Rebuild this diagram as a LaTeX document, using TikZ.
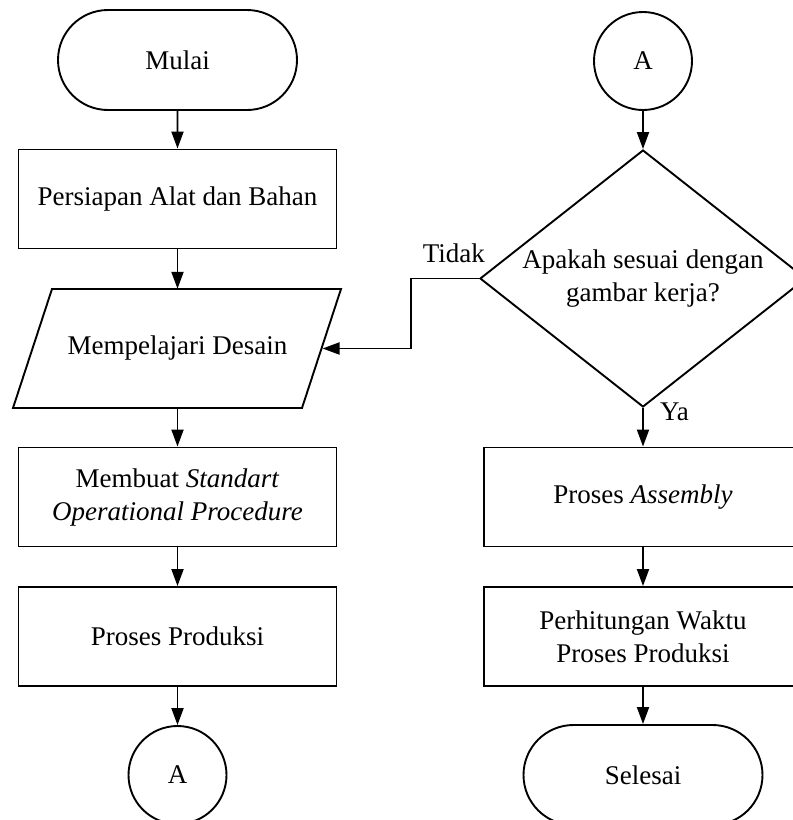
\documentclass[tikz,border=0pt]{standalone}
\usepackage{fontspec}
\setmainfont{Liberation Serif}
\usetikzlibrary{shapes.geometric,shapes.misc,arrows.meta}
\begin{document}
\begin{tikzpicture}[x=1pt,y=-1pt,
  every node/.style={font=\fontsize{27}{33}\selectfont},
  base/.style={draw=black, line width=1.9pt, align=center, inner sep=0pt},
  procbox/.style={base, rectangle, minimum width=318pt, minimum height=99pt},
  term/.style={base, rounded rectangle, minimum width=239pt, minimum height=100pt},
  conn/.style={base, circle, minimum size=98pt},
  iotext/.style={align=center, inner sep=0pt, minimum width=289pt, minimum height=119pt},
  outline/.style={draw=black, line width=1.9pt, line join=miter},
  decision/.style={base, diamond, aspect=1.27, minimum width=326pt, minimum height=257pt},
  flow/.style={line width=1.9pt, -{Triangle[length=17pt,width=12pt]}},
  lbl/.style={inner sep=0pt}
]
\useasboundingbox (0,0) rectangle (793,820);
\clip (0,0) rectangle (793,820);

% left column
\node[term] (start) at (177.5,60) {Mulai};
\node[procbox] (prep) at (177.5,199) {Persiapan Alat dan Bahan};
\node[iotext] (design) at (177.5,348.5) {Mempelajari Desain};
\draw[outline] (52,289) -- (341,289) -- (302,408) -- (13,408) -- cycle;
\coordinate (designE) at (321.5,348.5);
\node[procbox] (sop) at (177.5,497) {Membuat \textit{Standart}\\\textit{Operational Procedure}};
\node[procbox] (prod) at (177.5,636.5) {Proses Produksi};
\node[conn] (a1) at (177.5,775) {A};

% right column
\node[conn] (a2) at (643,61) {A};
\node[decision] (dec) at (643,278.5) {Apakah sesuai dengan\\gambar kerja?};
\node[procbox] (asm) at (643,497) {Proses \textit{Assembly}};
\node[procbox] (calc) at (643,636.5) {Perhitungan Waktu\\Proses Produksi};
\node[term] (stop) at (643,775) {Selesai};

% labels
\node[lbl, anchor=base east] (tidak) at (485,262) {Tidak};
\node[lbl, anchor=base west] (ya) at (660,420) {Ya};

% connectors
\draw[flow] (start) -- (prep);
\draw[flow] (prep) -- (design);
\draw[flow] (design) -- (sop);
\draw[flow] (sop) -- (prod);
\draw[flow] (prod) -- (a1);
\draw[flow] (a2) -- (dec);
\draw[flow] (dec) -- (asm);
\draw[flow] (asm) -- (calc);
\draw[flow] (calc) -- (stop);
\coordinate (k) at (411,278.5);
\draw[flow] (dec.west) -- (k) |- ([xshift=1pt]designE);
\end{tikzpicture}
\end{document}
